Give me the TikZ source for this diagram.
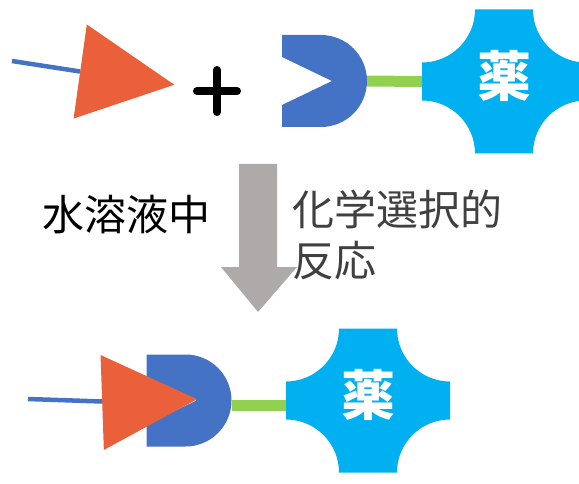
\documentclass[tikz,border=0pt]{standalone}
\usepackage{fontspec}
\newfontfamily\jpfont{Noto Sans CJK JP}
\usetikzlibrary{shapes.geometric}
\definecolor{tagorange}{RGB}{234,96,58}
\definecolor{probeblue}{RGB}{68,114,196}
\definecolor{linkgreen}{RGB}{146,208,80}
\definecolor{drugcyan}{RGB}{0,176,240}
\definecolor{arrowgray}{RGB}{174,170,170}
\definecolor{textgray}{RGB}{64,64,64}

\begin{document}
\begin{tikzpicture}[x=1pt,y=1pt,
    tag/.style={isosceles triangle,isosceles triangle stretches,fill=tagorange,
      inner sep=0pt,minimum width=95pt,minimum height=95pt,anchor=lower side},
    tether/.style={draw=probeblue,line width=4.5pt},
    probe/.style={minimum width=85pt,minimum height=92pt,inner sep=0pt,
      path picture={\fill[probeblue] (path picture bounding box.north west)
        -- ++(39pt,0) arc[start angle=90,end angle=-90,radius=46pt]
        -- (path picture bounding box.south west) -- ++(0,22pt)
        -- ++(50pt,24pt) -- ++(-50pt,24pt) -- cycle;}},
    drug/.style={minimum width=164pt,minimum height=144pt,inner sep=0pt,
      label={[drugtext]center:薬},
      path picture={\fill[drugcyan] ([yshift=-53pt]path picture bounding box.north west)
        arc[start angle=270,end angle=360,radius=53pt] -- ++(58pt,0)
        arc[start angle=180,end angle=270,radius=53pt] -- ++(0,-38pt)
        arc[start angle=90,end angle=180,radius=53pt] -- ++(-58pt,0)
        arc[start angle=0,end angle=90,radius=53pt] -- cycle;}},
    drugtext/.style={text=white,inner sep=0pt,yshift=6pt,
      font=\jpfont\bfseries\fontsize{54}{54}\selectfont},
    linker/.style={draw=linkgreen,line width=11pt},
    plusline/.style={draw=black,line width=8pt,line cap=round},
    flowarrow/.style={fill=arrowgray},
    note/.style={inner sep=0pt,font=\jpfont\fontsize{42}{51}\selectfont}]

  \useasboundingbox (0,0) rectangle (579,483);

  % before
  \coordinate (tailA) at (12,422);
  \node[tag,rotate=-8] (tagA) at (80,411.5) {};
  \draw[tether] (tailA) -- (tagA.lower side);
  \coordinate (plus) at (217,392);
  \draw[plusline] ([xshift=-20]plus) -- ([xshift=20]plus)
    ([yshift=-21]plus) -- ([yshift=21]plus);
  \node[probe] (recA) at (324.5,402) {};
  \node[drug] (drugA) at (504,401.5) {};
  \draw[linker] (recA.east) -- (drugA.west);

  % reaction
  \coordinate (flow) at (258,319);
  \fill[flowarrow] ([xshift=-19]flow) -- ([xshift=19]flow) -- ++(0,-103)
    -- ++(20,0) -- ++(-39,-45) -- ++(-37,45) -- ++(18,0) -- cycle;
  \node[note,text=black,anchor=west] (medium) at (42,268) {水溶液中};
  \node[note,text=textgray,anchor=north west,align=left] (reaction) at (292,293)
    {化学選択的\\反応};

  % after
  \node[probe] (recB) at (189,82.5) {};
  \coordinate (tailB) at (28,84);
  \node[tag,rotate=2] (tagB) at (102,80.5) {};
  \draw[tether] (tailB) -- ([yshift=1]tagB.lower side);
  \node[drug] (drugB) at (368,82.5) {};
  \draw[linker] ([yshift=-5]recB.east) -- ([yshift=-5]drugB.west);
\end{tikzpicture}
\end{document}
